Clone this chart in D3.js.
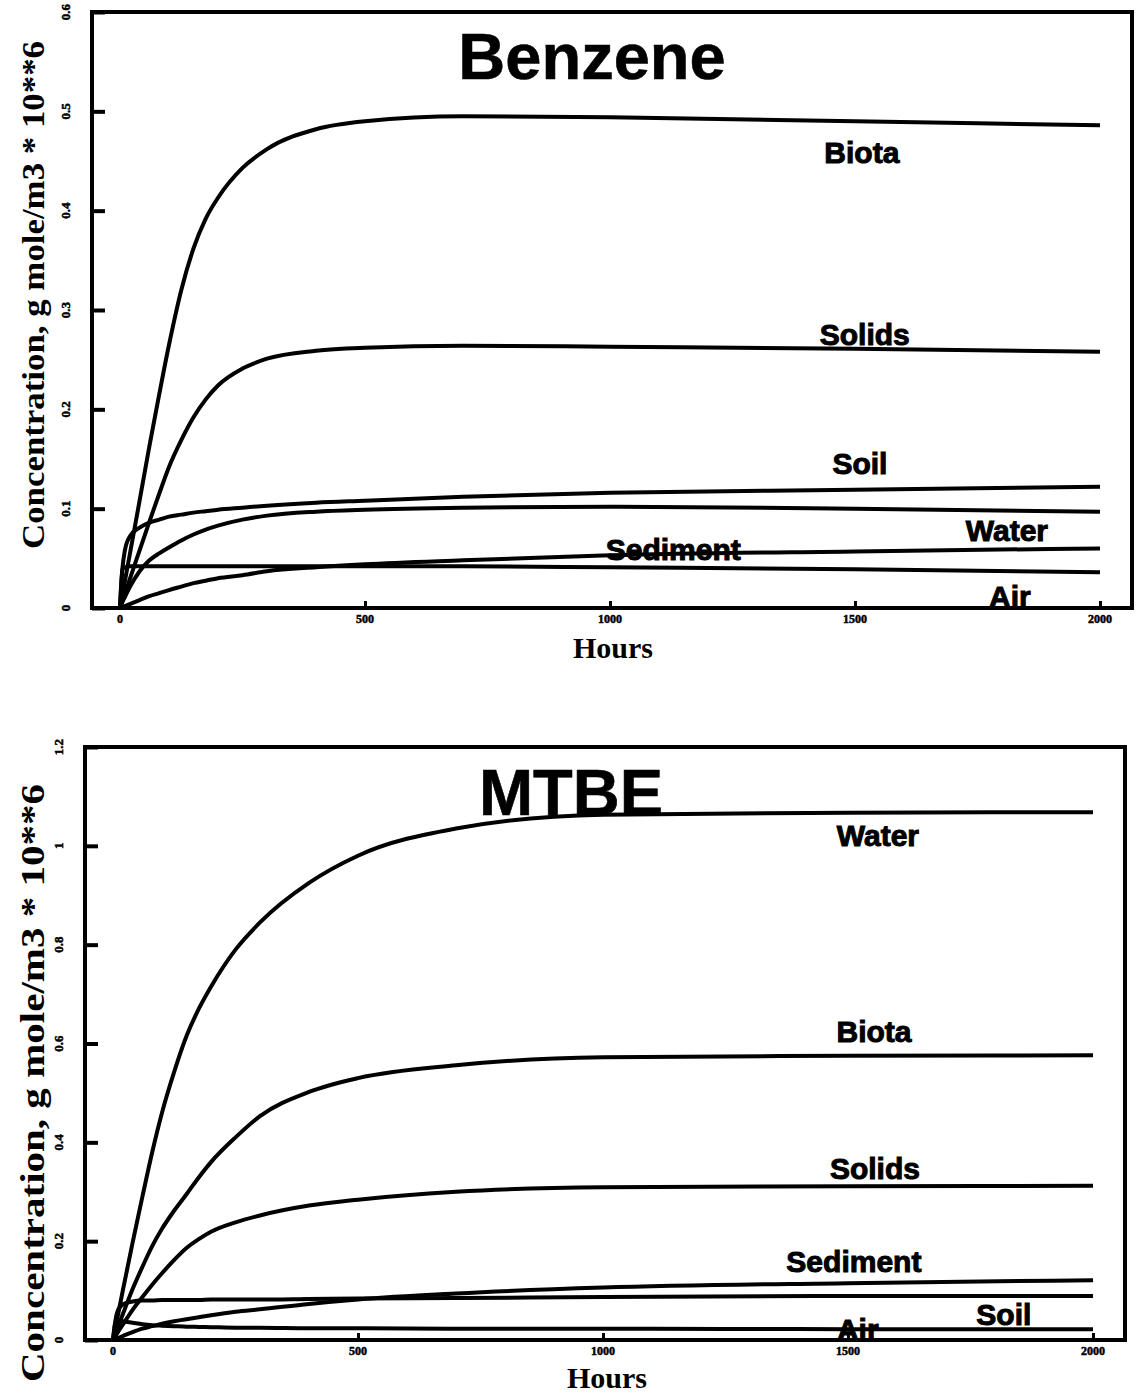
<!DOCTYPE html>
<html>
<head>
<meta charset="utf-8">
<title>Benzene and MTBE concentrations</title>
<script src="https://d3js.org/d3.v7.min.js"></script>
<style>
  body { margin: 0; background: #fff; }
</style>
</head>
<body>
<script>
var width = 1138, height = 1395;

// hours shared by every series
var hours = [0, 5, 10, 20, 40, 60, 80, 100, 125, 150, 175, 200, 250, 300, 400, 500, 700, 1000, 1500, 2000];

// Benzene, g mole/m3 * 10**6
var benzBiota    = [0, 0.013, 0.027, 0.054, 0.108, 0.163, 0.215, 0.265, 0.320, 0.362, 0.392, 0.413, 0.443, 0.462, 0.482, 0.490, 0.495, 0.494, 0.490, 0.486];
var benzSolids   = [0, 0.007, 0.014, 0.029, 0.058, 0.087, 0.115, 0.142, 0.169, 0.192, 0.210, 0.224, 0.241, 0.251, 0.259, 0.262, 0.264, 0.263, 0.261, 0.258];
var benzSoil     = [0, 0.040, 0.058, 0.072, 0.081, 0.086, 0.089, 0.092, 0.094, 0.096, 0.0975, 0.099, 0.101, 0.103, 0.106, 0.108, 0.112, 0.116, 0.119, 0.122];
var benzWater    = [0, 0.006, 0.011, 0.021, 0.037, 0.048, 0.055, 0.061, 0.068, 0.074, 0.079, 0.083, 0.089, 0.093, 0.097, 0.099, 0.101, 0.102, 0.100, 0.097];
var benzSediment = [0, 0.001, 0.002, 0.004, 0.008, 0.012, 0.015, 0.018, 0.0215, 0.025, 0.0275, 0.030, 0.033, 0.037, 0.041, 0.044, 0.048, 0.053, 0.057, 0.060];
var benzAir      = [0, 0.039, 0.041, 0.042, 0.042, 0.042, 0.042, 0.042, 0.042, 0.042, 0.042, 0.042, 0.042, 0.042, 0.042, 0.042, 0.042, 0.041, 0.039, 0.036];

// MTBE, g mole/m3 * 10**6
var mtbeWater    = [0, 0.025, 0.050, 0.100, 0.197, 0.290, 0.380, 0.460, 0.543, 0.615, 0.670, 0.715, 0.790, 0.845, 0.925, 0.980, 1.035, 1.063, 1.067, 1.068];
var mtbeBiota    = [0, 0.013, 0.026, 0.052, 0.103, 0.148, 0.190, 0.225, 0.262, 0.295, 0.329, 0.360, 0.410, 0.453, 0.502, 0.530, 0.556, 0.572, 0.575, 0.576];
var mtbeSolids   = [0, 0.008, 0.016, 0.031, 0.061, 0.087, 0.112, 0.135, 0.162, 0.186, 0.204, 0.219, 0.238, 0.252, 0.272, 0.284, 0.300, 0.309, 0.311, 0.312];
var mtbeSediment = [0, 0.002, 0.004, 0.008, 0.016, 0.023, 0.028, 0.033, 0.038, 0.042, 0.046, 0.050, 0.057, 0.062, 0.073, 0.082, 0.094, 0.106, 0.115, 0.121];
var mtbeSoil     = [0, 0.040, 0.060, 0.072, 0.078, 0.080, 0.080, 0.081, 0.081, 0.081, 0.081, 0.082, 0.082, 0.082, 0.083, 0.084, 0.085, 0.087, 0.089, 0.089];
var mtbeAir      = [0, 0.036, 0.040, 0.038, 0.035, 0.032, 0.030, 0.029, 0.028, 0.027, 0.0265, 0.026, 0.025, 0.025, 0.024, 0.024, 0.023, 0.023, 0.022, 0.022];

var xTicks = [0, 500, 1000, 1500, 2000];
var benzYTicks = [0, 0.1, 0.2, 0.3, 0.4, 0.5, 0.6];
var mtbeYTicks = [0, 0.2, 0.4, 0.6, 0.8, 1, 1.2];

var benzSeries = [
  { name: "Biota", values: benzBiota },
  { name: "Solids", values: benzSolids },
  { name: "Soil", values: benzSoil },
  { name: "Water", values: benzWater },
  { name: "Sediment", values: benzSediment },
  { name: "Air", values: benzAir }
];
var mtbeSeries = [
  { name: "Water", values: mtbeWater },
  { name: "Biota", values: mtbeBiota },
  { name: "Solids", values: mtbeSolids },
  { name: "Sediment", values: mtbeSediment },
  { name: "Soil", values: mtbeSoil },
  { name: "Air", values: mtbeAir }
];

var svg = d3.select("body")
  .append("svg")
  .attr("width", width)
  .attr("height", height);

function drawPanel(p) {
  var x = d3.scaleLinear().domain([0, 2000]).range([p.x0, p.x1]);
  var y = d3.scaleLinear().domain([0, p.yMax]).range([p.bottom, p.top]);
  var g = svg.append("g");

  // curves
  var line = d3.line()
    .x(function(d) { return x(d[0]); })
    .y(function(d) { return y(d[1]); })
    .curve(d3.curveMonotoneX);

  p.series.forEach(function(s) {
    g.append("path")
      .datum(hours.map(function(h, i) { return [h, s.values[i]]; }))
      .attr("fill", "none")
      .attr("stroke", "#000")
      .attr("stroke-width", 4)
      .attr("stroke-linejoin", "round")
      .attr("d", line);
  });

  // frame
  g.append("rect")
    .attr("x", p.left).attr("y", p.top)
    .attr("width", p.right - p.left).attr("height", p.bottom - p.top)
    .attr("fill", "none").attr("stroke", "#000").attr("stroke-width", 4);

  // y axis, ticks pointing inward
  var ya = g.append("g")
    .attr("transform", "translate(" + p.left + ",0)")
    .call(d3.axisRight(y).tickValues(p.yTicks).tickSize(13).tickFormat(""));
  ya.select(".domain").remove();
  ya.selectAll("line").attr("stroke-width", 4);
  g.selectAll(".ylab")
    .data(p.yTicks)
    .enter().append("text")
    .attr("transform", function(d) { return "translate(" + (p.left - 22) + "," + y(d) + ") rotate(-90)"; })
    .attr("text-anchor", "middle")
    .attr("font-family", "Liberation Serif")
    .attr("font-weight", "bold")
    .attr("font-size", 13)
    .attr("stroke", "#000").attr("stroke-width", 0.5)
    .text(function(d) { return d3.format("~g")(d); });

  // x axis, ticks pointing inward
  var xa = g.append("g")
    .attr("transform", "translate(0," + p.bottom + ")")
    .call(d3.axisTop(x).tickValues(xTicks).tickSize(7).tickFormat(""));
  xa.select(".domain").remove();
  xa.selectAll("line").attr("stroke-width", 3);
  g.selectAll(".xlab")
    .data(xTicks)
    .enter().append("text")
    .attr("x", function(d) { return x(d); })
    .attr("y", p.bottom + 15)
    .attr("text-anchor", "middle")
    .attr("font-family", "Liberation Serif")
    .attr("font-weight", "bold")
    .attr("font-size", 12)
    .attr("stroke", "#000").attr("stroke-width", 0.5)
    .text(function(d) { return d; });

  g.append("text")
    .attr("x", p.hoursX).attr("y", p.hoursY)
    .attr("text-anchor", "middle")
    .attr("font-family", "Liberation Serif")
    .attr("font-weight", "bold")
    .attr("font-size", 30)
    .text("Hours");

  g.append("text")
    .attr("transform", "translate(44," + p.titleY + ") rotate(-90)")
    .attr("text-anchor", "middle")
    .attr("font-family", "Liberation Serif")
    .attr("font-weight", "bold")
    .attr("font-size", p.titleSize)
    .attr("textLength", p.titleLen)
    .attr("lengthAdjust", "spacingAndGlyphs")
    .text("Concentration, g mole/m3 * 10**6");

  // chart name
  g.append("text")
    .attr("x", p.nameX).attr("y", p.nameY)
    .attr("text-anchor", "middle")
    .attr("font-family", "Liberation Sans")
    .attr("font-weight", "bold")
    .attr("font-size", 65)
    .attr("stroke", "#000").attr("stroke-width", 0.6)
    .text(p.name);

  // series labels, placed in data coordinates
  g.selectAll(".slab")
    .data(p.labels)
    .enter().append("text")
    .attr("x", function(d) { return x(d[1]); })
    .attr("y", function(d) { return y(d[2]); })
    .attr("text-anchor", "middle")
    .attr("font-family", "Liberation Sans")
    .attr("font-weight", "bold")
    .attr("font-size", 30)
    .attr("stroke", "#000").attr("stroke-width", 1)
    .text(function(d) { return d[0]; });
}

drawPanel({
  name: "Benzene", nameX: 592, nameY: 79,
  series: benzSeries, yMax: 0.6, yTicks: benzYTicks,
  left: 92, right: 1132, top: 12, bottom: 608, x0: 120, x1: 1100,
  hoursX: 613, hoursY: 658, titleY: 295, titleSize: 31, titleLen: 508,
  labels: [["Biota", 1514, 0.448], ["Solids", 1520, 0.265], ["Soil", 1510, 0.135],
           ["Water", 1810, 0.0675], ["Sediment", 1129, 0.048], ["Air", 1816, 0.001]]
});

drawPanel({
  name: "MTBE", nameX: 571, nameY: 815,
  series: mtbeSeries, yMax: 1.2, yTicks: mtbeYTicks,
  left: 85, right: 1125, top: 747, bottom: 1340, x0: 113, x1: 1093,
  hoursX: 607, hoursY: 1388, titleY: 1083, titleSize: 33, titleLen: 598,
  labels: [["Water", 1561, 1.0], ["Biota", 1553, 0.603], ["Solids", 1555, 0.326],
           ["Sediment", 1512, 0.138], ["Soil", 1818, 0.030], ["Air", 1520, 0.0]]
});
</script>
</body>
</html>
